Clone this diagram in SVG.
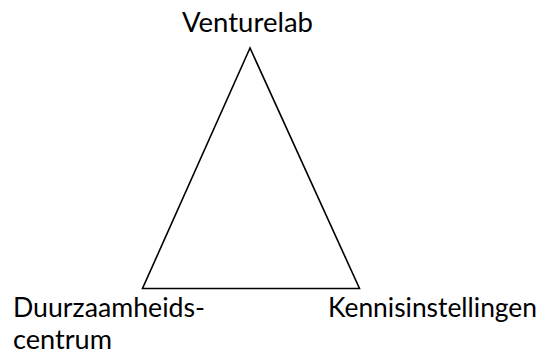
<svg xmlns="http://www.w3.org/2000/svg" width="543" height="356" viewBox="0 0 543 356">
<style>
.lbl{font-family:Lato,"Open Sans","Liberation Sans",sans-serif;font-size:26px;fill:#000}
.edge{fill:none;stroke:#000;stroke-width:1.6;stroke-linejoin:miter}
</style>
<rect width="543" height="356" fill="#fff"/>
<g id="connectors">
<polygon class="edge" points="250,48 142.5,288.5 359.5,288.5"/>
</g>
<g id="venturelab">
<text class="lbl" x="182" y="32" textLength="131" lengthAdjust="spacingAndGlyphs">Venturelab</text>
</g>
<g id="duurzaamheidscentrum">
<text class="lbl" x="13" y="317" textLength="192" lengthAdjust="spacingAndGlyphs">Duurzaamheids-</text>
<text class="lbl" x="13" y="349" textLength="99" lengthAdjust="spacingAndGlyphs">centrum</text>
</g>
<g id="kennisinstellingen">
<text class="lbl" x="328" y="317" textLength="209" lengthAdjust="spacingAndGlyphs">Kennisinstellingen</text>
</g>
</svg>
